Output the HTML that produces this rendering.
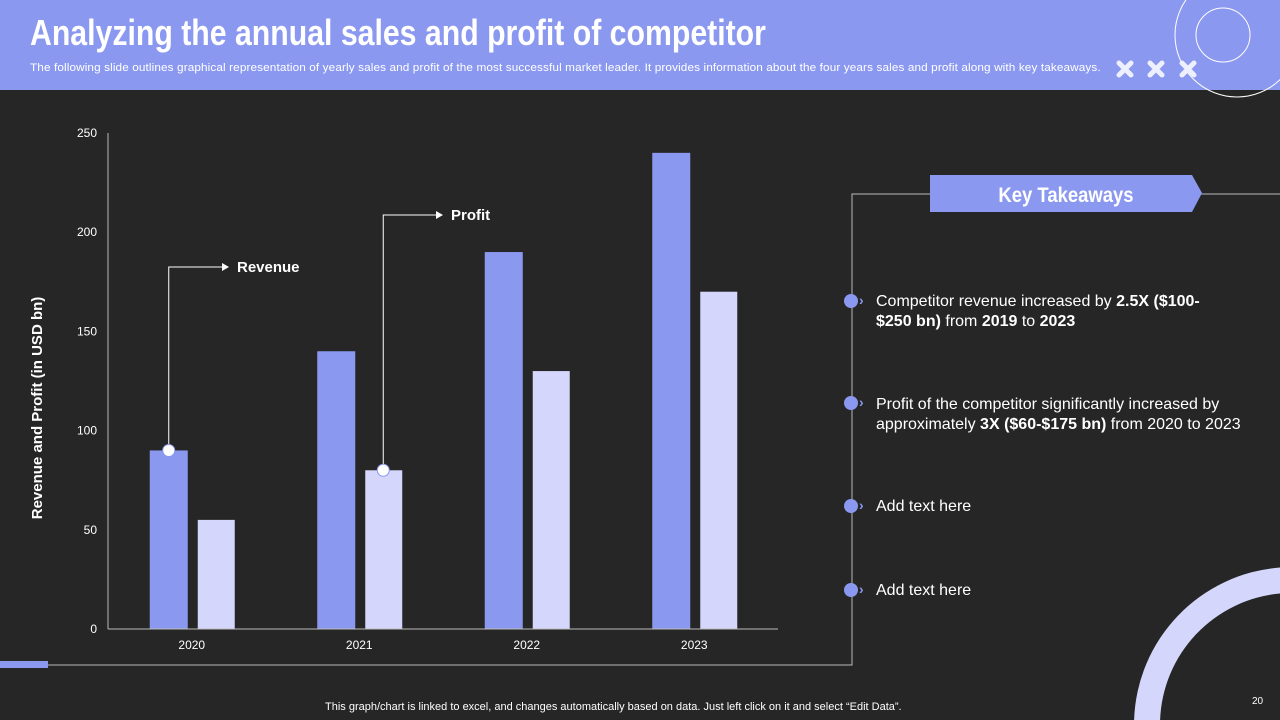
<!DOCTYPE html>
<html style="overflow:hidden"><head><meta charset="utf-8"><style>
html,body{overflow:hidden}
svg{overflow:hidden}
body{margin:0;width:1280px;height:720px;overflow:hidden;background:#262626;font-family:"Liberation Sans",sans-serif;position:relative}
.hdr{position:absolute;left:0;top:0;width:1280px;height:90px;background:#8b98f0}
.title{position:absolute;left:30px;top:12px;font-family:"Liberation Sans Narrow","Liberation Sans",sans-serif;font-weight:bold;font-size:36px;color:#fff;transform:scaleX(0.84);transform-origin:left;white-space:nowrap}
.sub{position:absolute;left:30px;top:62px;font-size:11px;color:#fff;white-space:nowrap;transform:scaleX(1.07);transform-origin:left;letter-spacing:0.1px}
.tk{position:absolute;left:876px;font-size:16px;color:#fff;line-height:20px}
.dot{position:absolute;left:844px;width:14px;height:14px;border-radius:50%;background:#8b98f0}
.chev{position:absolute;left:859px;color:#8b98f0;font-size:14px;font-weight:bold}
</style></head><body>
<div class="hdr"></div>
<div class="title">Analyzing the annual sales and profit of competitor</div>
<div class="sub">The following slide outlines graphical representation of yearly sales and profit of the most successful market leader. It provides information about the four years sales and profit along with key takeaways.</div>
<svg width="1280" height="720" style="position:absolute;left:0;top:0;overflow:hidden">
<circle cx="1237" cy="35" r="62" fill="none" stroke="#fff" stroke-width="1"/>
<circle cx="1223" cy="35" r="27" fill="none" stroke="#fff" stroke-width="1"/>
<g stroke="#eef0ff" stroke-width="5" stroke-linecap="round">
<path d="M1119 63l12 12M1131 63l-12 12M1150 63l12 12M1162 63l-12 12M1182 63l12 12M1194 63l-12 12"/></g>
<path d="M1134.1 720 A158 158 0 0 1 1280 567.5 L1280 593.5 A132 132 0 0 0 1160.1 720 Z" fill="#d4d7fb"/>
<rect x="0" y="661" width="48" height="7" fill="#8b98f0"/>
<path d="M48 665H852V194H930M1200 194H1280" fill="none" stroke="#bbb" stroke-width="1"/>
<polygon points="930,175 1192,175 1202,193 1192,212 930,212" fill="#8b98f0"/>
<text x="1066" y="202" fill="#fff" font-size="21" font-weight="bold" text-anchor="middle" font-family="Liberation Sans Narrow, Liberation Sans, sans-serif" transform="translate(1066 0) scale(0.88 1) translate(-1066 0)">Key Takeaways</text>
</svg>
<div class="dot" style="top:294px"></div><div class="chev" style="top:292px">›</div>
<div class="dot" style="top:396px"></div><div class="chev" style="top:394px">›</div>
<div class="dot" style="top:499px"></div><div class="chev" style="top:497px">›</div>
<div class="dot" style="top:583px"></div><div class="chev" style="top:581px">›</div>
<div class="tk" style="top:292px">Competitor revenue increased by <b>2.5X ($100-<br>$250 bn)</b> from <b>2019</b> to <b>2023</b></div>
<div class="tk" style="top:395px">Profit of the competitor significantly increased by<br>approximately <b>3X ($60-$175 bn)</b> from 2020 to 2023</div>
<div class="tk" style="top:497px">Add text here</div>
<div class="tk" style="top:581px">Add text here</div>
<div style="position:absolute;left:325px;top:701px;font-size:11px;line-height:13px;color:#fff;white-space:nowrap">This graph/chart is linked to excel, and changes automatically based on data. Just left click on it and select “Edit Data”.</div>
<div style="position:absolute;left:1252px;top:696px;font-size:10px;color:#fff">20</div>
<svg id="chart" width="1280" height="720" style="position:absolute;left:0;top:0;overflow:hidden"></svg>
<script>
const categories=["2020","2021","2022","2023"];
const revenue=[90,140,190,240];
const profit=[55,80,130,170];
const ticks=[0,50,100,150,200,250];
const svg=document.getElementById('chart');const NS='http://www.w3.org/2000/svg';
const x0=108,x1=778,y0=629,ymax=250,ph=496;
const y=v=>y0-v/ymax*ph;
const bw=(x1-x0)/categories.length;
const cx=i=>x0+bw*(i+0.5);
function mk(t,a,p){const e=document.createElementNS(NS,t);for(const k in a)e.setAttribute(k,a[k]);(p||svg).appendChild(e);return e;}
ticks.forEach(t=>{const e=mk('text',{x:97,y:y(t)+4,fill:'#fff','font-size':12,'text-anchor':'end'});e.textContent=t;

});
categories.forEach((c,i)=>{
const r=mk('rect',{x:cx(i)-42,y:y(revenue[i]),width:38,height:y0-y(revenue[i]),fill:'#8b98f0'});


const p=mk('rect',{x:cx(i)+6,y:y(profit[i]),width:37,height:y0-y(profit[i]),fill:'#d4d7fb'});


const t=mk('text',{x:cx(i),y:649,fill:'#fff','font-size':12,'text-anchor':'middle'});t.textContent=c;


});
mk('line',{x1:x0,y1:133,x2:x0,y2:y0,stroke:'#bbb'});
mk('line',{x1:x0,y1:y0,x2:x1,y2:y0,stroke:'#bbb'});
const yt=mk('text',{x:42,y:408,fill:'#fff','font-size':15,'font-weight':'bold','text-anchor':'middle',transform:'rotate(-90 42 408)'});yt.textContent='Revenue and Profit (in USD bn)';


function ann(i,v,off,ty,tx,label){const px=cx(i)+off,py=y(v);
mk('path',{d:`M${px} ${py}V${ty}H${tx}`,fill:'none',stroke:'#fff'});
mk('path',{d:`M${tx} ${ty-4}l7 4l-7 4z`,fill:'#fff'});
mk('circle',{cx:px,cy:py,r:6,fill:'#fff',stroke:'#8b98f0'});
const t=mk('text',{x:tx+15,y:ty+5,fill:'#fff','font-size':15,'font-weight':'bold'});t.textContent=label;

}
ann(0,revenue[0],-23,267,222,'Revenue');
ann(1,profit[1],24,215,436,'Profit');
</script>
</body></html>
